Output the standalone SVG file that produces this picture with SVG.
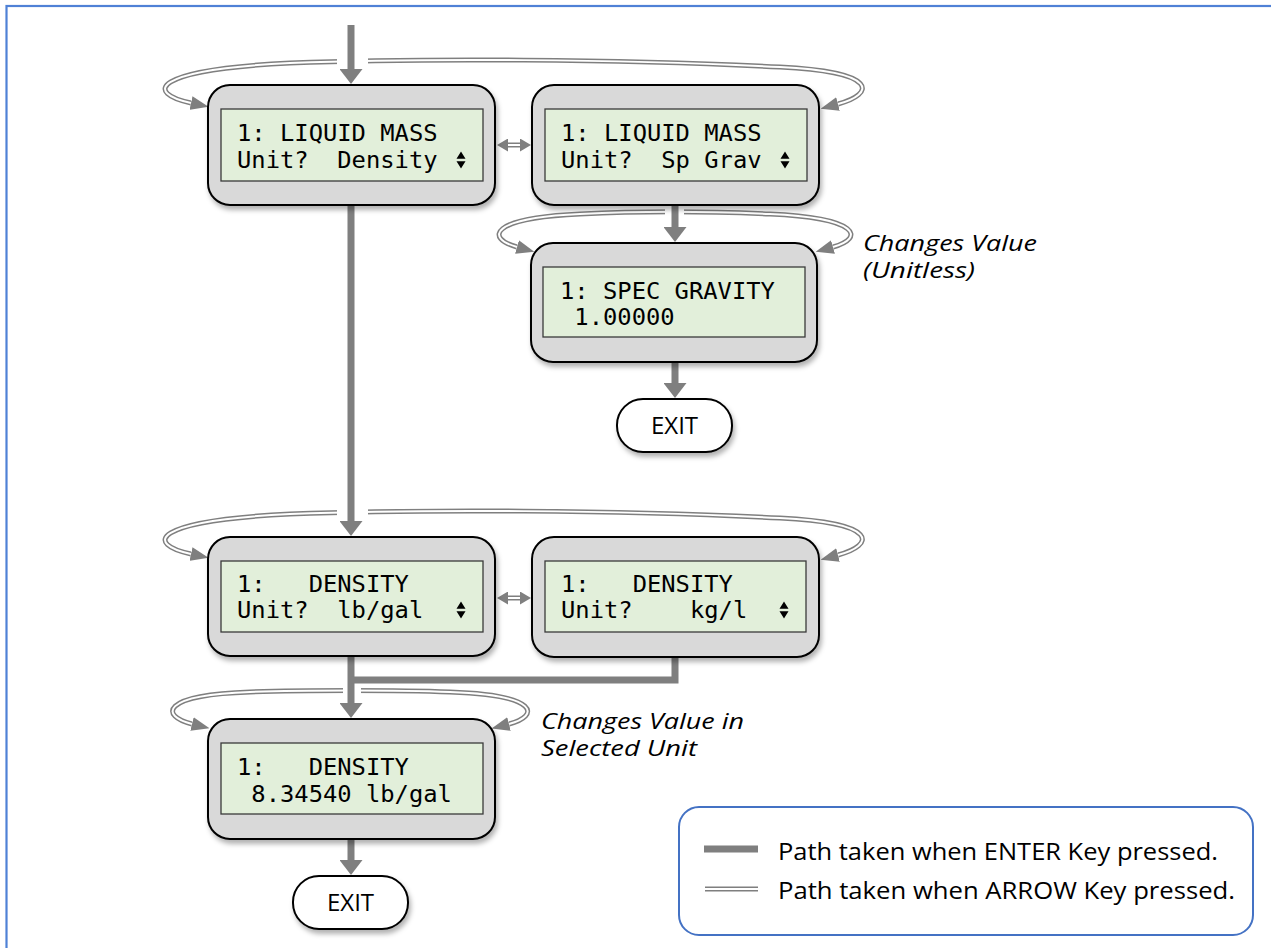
<svg xmlns="http://www.w3.org/2000/svg" width="1271" height="948" viewBox="0 0 1271 948" xml:space="preserve">
<defs>
<style>
text{white-space:pre}
.node{fill:#d9d9d9;stroke:#000;stroke-width:2;filter:url(#sh)}
.lcd{fill:#e2efda;stroke:#3a3a3a;stroke-width:1.3}
.mono{font-family:"DejaVu Sans Mono",monospace;font-size:23.8px;fill:#000;white-space:pre}
.exit{fill:#fff;stroke:#000;stroke-width:2;filter:url(#sh)}
.exitt{font-family:"Open Sans","Liberation Sans",sans-serif;font-size:24px;fill:#000;text-anchor:middle}
.thick{fill:none;stroke:#7f7f7f;stroke-width:7}
.dbl{fill:none;stroke:#7f7f7f;stroke-width:5}
.dblw{fill:none;stroke:#fff;stroke-width:2}
.note{font-family:"Open Sans","Liberation Sans",sans-serif;font-style:italic;font-size:21px;fill:#000}
.leg{font-family:"Open Sans","Liberation Sans",sans-serif;font-size:24px;fill:#000}
.gap{fill:#fff;stroke:none}
</style>
<filter id="sh" x="-10%" y="-10%" width="130%" height="140%">
<feDropShadow dx="2" dy="4" stdDeviation="2.5" flood-color="#000" flood-opacity="0.3"/>
</filter>
<marker id="ah" markerUnits="userSpaceOnUse" markerWidth="15" markerHeight="23" viewBox="0 0 15 23" refX="0" refY="11.5" orient="auto">
<path d="M0,0 L15,11.5 L0,23 Z" fill="#7f7f7f"/>
</marker>
<marker id="dh" markerUnits="userSpaceOnUse" markerWidth="18" markerHeight="14" viewBox="0 0 18 14" refX="0" refY="7" orient="auto-start-reverse">
<path d="M0,0 L18,7 L0,14 Z" fill="#7f7f7f"/>
</marker>
<marker id="ds" markerUnits="userSpaceOnUse" markerWidth="11" markerHeight="13" viewBox="0 0 11 13" refX="0" refY="6.5" orient="auto-start-reverse">
<path d="M0,0 L11,6.5 L0,13 Z" fill="#7f7f7f"/>
</marker>
<path id="ud" d="M-4.5,-1.2 L4.5,-1.2 L0,-8.5 Z M-4.5,1.2 L4.5,1.2 L0,8.5 Z" fill="#000"/>
</defs>

<rect x="6.5" y="6" width="1300" height="1000" fill="#fff" stroke="#4f81d6" stroke-width="2.2"/>

<g id="connectors">
<path class="dbl" d="M838,104 C875,94 880,72 780,67 C620,59 420,58 290,63 C150,70 145,93 191,103" marker-start="url(#dh)" marker-end="url(#dh)"/>
<path class="dblw" d="M838,104 C875,94 880,72 780,67 C620,59 420,58 290,63 C150,70 145,93 191,103"/>
<g transform="translate(0,451)">
<path class="dbl" d="M838,104 C875,94 880,72 780,67 C620,59 420,58 290,63 C150,70 145,93 191,103" marker-start="url(#dh)" marker-end="url(#dh)"/>
<path class="dblw" d="M838,104 C875,94 880,72 780,67 C620,59 420,58 290,63 C150,70 145,93 191,103"/>
</g>
<path class="dbl" d="M833,247 C865,238 860,218 770,214 C700,211 640,211 580,214 C490,218 485,238 517,247" marker-start="url(#dh)" marker-end="url(#dh)"/>
<path class="dblw" d="M833,247 C865,238 860,218 770,214 C700,211 640,211 580,214 C490,218 485,238 517,247"/>
<path class="dbl" d="M509,724 C540,716 540,695 450,692 C400,690 300,690 250,692 C160,695 160,716 192,724" marker-start="url(#dh)" marker-end="url(#dh)"/>
<path class="dblw" d="M509,724 C540,716 540,695 450,692 C400,690 300,690 250,692 C160,695 160,716 192,724"/>
<path class="dbl" d="M508,145 H520" marker-start="url(#ds)" marker-end="url(#ds)"/>
<path class="dblw" d="M508,145 H520"/>
<path class="dbl" d="M508,598 H520" marker-start="url(#ds)" marker-end="url(#ds)"/>
<path class="dblw" d="M508,598 H520"/>
<rect class="gap" x="337" y="54" width="31" height="18"/>
<rect class="gap" x="337" y="505" width="31" height="18"/>
<rect class="gap" x="665" y="205" width="19" height="16"/>
<rect class="gap" x="343" y="684" width="18" height="14"/>
<path class="thick" d="M351,25 V69" marker-end="url(#ah)"/>
<path class="thick" d="M351,205 V521" marker-end="url(#ah)"/>
<path class="thick" d="M675,205 V227" marker-end="url(#ah)"/>
<path class="thick" d="M675,362 V383" marker-end="url(#ah)"/>
<path class="thick" d="M351,656 V703" marker-end="url(#ah)"/>
<path class="thick" d="M675,657 V680 H351"/>
<path class="thick" d="M351,839 V860" marker-end="url(#ah)"/>
</g>

<g id="n1">
<rect class="node" x="208" y="85" width="287" height="120" rx="22"/>
<rect class="lcd" x="221" y="109" width="262" height="72"/>
<text class="mono" x="237" y="141">1: LIQUID MASS</text>
<text class="mono" x="237" y="168">Unit?&#160;&#160;Density</text>
<use href="#ud" x="461" y="160"/>
</g>
<g id="n2">
<rect class="node" x="532" y="85" width="287" height="120" rx="22"/>
<rect class="lcd" x="545" y="109" width="262" height="72"/>
<text class="mono" x="561" y="141">1: LIQUID MASS</text>
<text class="mono" x="561" y="168">Unit?&#160;&#160;Sp Grav</text>
<use href="#ud" x="785" y="160"/>
</g>
<g id="n3">
<rect class="node" x="531" y="243" width="286" height="119" rx="22"/>
<rect class="lcd" x="543" y="267" width="262" height="70"/>
<text class="mono" x="560" y="299">1: SPEC GRAVITY</text>
<text class="mono" x="560" y="325">&#160;1.00000</text>
</g>
<g id="exit1">
<rect class="exit" x="617" y="399" width="115" height="53" rx="26"/>
<text class="exitt" x="674.5" y="434">EXIT</text>
</g>
<g id="n4">
<rect class="node" x="208" y="537" width="287" height="119" rx="22"/>
<rect class="lcd" x="221" y="561" width="262" height="71"/>
<text class="mono" x="237" y="592">1:&#160;&#160;&#160;DENSITY</text>
<text class="mono" x="237" y="618">Unit?&#160;&#160;lb/gal</text>
<use href="#ud" x="461" y="610"/>
</g>
<g id="n5">
<rect class="node" x="532" y="537" width="287" height="120" rx="22"/>
<rect class="lcd" x="545" y="561" width="261" height="71"/>
<text class="mono" x="561" y="592">1:&#160;&#160;&#160;DENSITY</text>
<text class="mono" x="561" y="618">Unit?&#160;&#160;&#160;&#160;kg/l</text>
<use href="#ud" x="784" y="610"/>
</g>
<g id="n6">
<rect class="node" x="208" y="719" width="287" height="120" rx="22"/>
<rect class="lcd" x="221" y="743" width="262" height="71"/>
<text class="mono" x="237" y="775">1:&#160;&#160;&#160;DENSITY</text>
<text class="mono" x="237" y="802">&#160;8.34540 lb/gal</text>
</g>
<g id="exit2">
<rect class="exit" x="293" y="876" width="115" height="53" rx="26"/>
<text class="exitt" x="350.5" y="911">EXIT</text>
</g>

<g id="notes">
<text class="note" x="863" y="251" textLength="174" lengthAdjust="spacingAndGlyphs">Changes Value</text>
<text class="note" x="863" y="278" textLength="112" lengthAdjust="spacingAndGlyphs">(Unitless)</text>
<text class="note" x="541" y="729" textLength="203" lengthAdjust="spacingAndGlyphs">Changes Value in</text>
<text class="note" x="541" y="756" textLength="156" lengthAdjust="spacingAndGlyphs">Selected Unit</text>
</g>

<g id="legend">
<rect x="679" y="807" width="574" height="128" rx="20" fill="#fff" stroke="#4472c4" stroke-width="2"/>
<path class="thick" d="M704,849 H758"/>
<path class="dbl" d="M705,889 H758"/>
<path class="dblw" d="M705,889 H758"/>
<text class="leg" x="778" y="860" textLength="440" lengthAdjust="spacingAndGlyphs">Path taken when ENTER Key pressed.</text>
<text class="leg" x="778" y="899" textLength="457" lengthAdjust="spacingAndGlyphs">Path taken when ARROW Key pressed.</text>
</g>
</svg>
